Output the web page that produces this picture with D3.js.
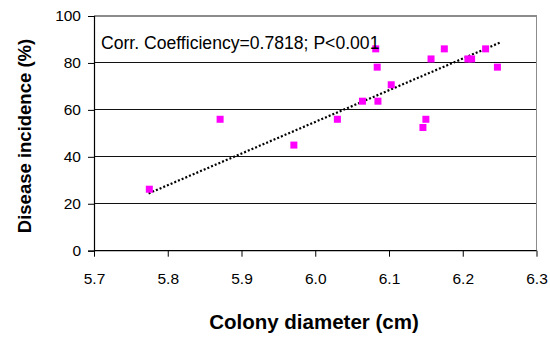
<!DOCTYPE html>
<html>
<head>
<meta charset="utf-8">
<script src="https://cdn.jsdelivr.net/npm/d3@7"></script>
<style>
  body { margin: 0; background: #fff; }
  text { font-family: Arial, "Liberation Sans", sans-serif; }
</style>
</head>
<body>
<div id="chart"></div>
<script>
// Colony diameter (cm) vs disease incidence (%)
var diameter = [5.775, 5.871, 5.971, 6.030, 6.064, 6.082, 6.084, 6.085, 6.103,
                6.146, 6.150, 6.157, 6.175, 6.207, 6.212, 6.231, 6.247];
var incidence = [26.2, 56, 45, 56, 63.7, 86, 78.2, 63.7, 70.7,
                 52.5, 56, 81.7, 86, 81.7, 81.7, 86, 78.2];

// trend line end points as drawn
var trendX = [5.774, 6.250];
var trendY = [24.4, 88.6];

var xTicks = [5.7, 5.8, 5.9, 6.0, 6.1, 6.2, 6.3];
var yTicks = [0, 20, 40, 60, 80, 100];
var note = "Corr. Coefficiency=0.7818; P<0.001";

var width = 550, height = 338;
var svg = d3.select("#chart").append("svg").attr("width", width).attr("height", height);

var x = d3.scaleLinear().domain([5.7, 6.3]).range([94, 536.5]);
var y = d3.scaleLinear().domain([0, 100]).range([250.7, 16]);

// gridlines
svg.append("g").selectAll("line").data(yTicks.filter(function(d){ return d > 0 && d < 100; }))
    .enter().append("line")
    .attr("x1", x(5.7)).attr("x2", x(6.3))
    .attr("y1", function(d){ return y(d); }).attr("y2", function(d){ return y(d); })
    .attr("stroke", "#111").attr("stroke-width", 1).attr("shape-rendering", "crispEdges");

// plot border (top and right)
svg.append("path")
    .attr("d", "M" + x(5.7) + "," + y(100) + "H" + x(6.3) + "V" + y(0))
    .attr("fill", "none").attr("stroke", "#8c8c8c").attr("stroke-width", 1.2)
    .attr("shape-rendering", "crispEdges");

// axes
var xAxis = d3.axisBottom(x).tickValues(xTicks).tickSize(6).tickPadding(16)
    .tickFormat(d3.format(".1f"));
var yAxis = d3.axisLeft(y).tickValues(yTicks).tickSize(6).tickPadding(7);

var gx = svg.append("g").attr("transform", "translate(0," + y(0) + ")").call(xAxis);
var gy = svg.append("g").attr("transform", "translate(" + x(5.7) + ",0)").call(yAxis);
[gx, gy].forEach(function(g) {
    g.select(".domain").attr("stroke", "#000").attr("stroke-width", 1.2);
    g.selectAll(".tick line").attr("stroke", "#000");
    g.selectAll(".tick text").attr("fill", "#000").style("font-size", "15.5px")
        .style("font-family", "Arial, 'Liberation Sans', sans-serif");
});
gx.select(".domain").attr("d", "M" + x(5.7) + ",0H" + x(6.3));

// trend line
svg.append("line")
    .attr("x1", x(trendX[0])).attr("y1", y(trendY[0]))
    .attr("x2", x(trendX[1])).attr("y2", y(trendY[1]))
    .attr("stroke", "#000").attr("stroke-width", 2.2).attr("stroke-dasharray", "2,2");

// points
var pts = diameter.map(function(d, i){ return [d, incidence[i]]; });
svg.append("g").selectAll("rect").data(pts).enter().append("rect")
    .attr("x", function(d){ return x(d[0]) - 3.5; })
    .attr("y", function(d){ return y(d[1]) - 3.5; })
    .attr("width", 7).attr("height", 7)
    .attr("fill", "#ff00ff");

// annotation
svg.append("text").attr("x", 101).attr("y", 48.7)
    .style("font-size", "17.6px").attr("fill", "#000").text(note);

// axis titles
svg.append("text").attr("x", 314).attr("y", 329)
    .attr("text-anchor", "middle").style("font-size", "20.5px").style("font-weight", "bold")
    .text("Colony diameter (cm)");
svg.append("text").attr("transform", "translate(31,136) rotate(-90)")
    .attr("text-anchor", "middle").style("font-size", "18.5px").style("font-weight", "bold")
    .text("Disease incidence (%)");
</script>
</body>
</html>
